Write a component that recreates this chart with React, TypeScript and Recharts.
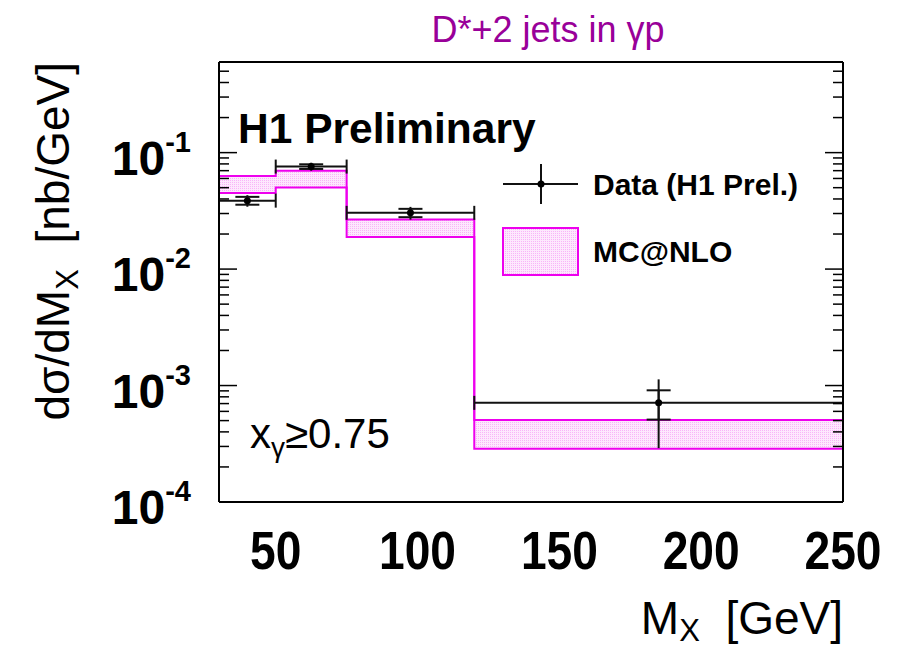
import React from "react";
import {
  ComposedChart,
  Area,
  Scatter,
  ErrorBar,
  XAxis,
  YAxis,
  Legend,
} from "recharts";

const FONT = "'Liberation Sans', Arial, Helvetica, sans-serif";
const MAGENTA = "#ee00ee";
const TITLE_COLOR = "#990099";

// M_X bin edges [GeV]
const binEdges = [30, 50, 75, 120, 250];

// H1 preliminary data points
const dataX = [40, 62.5, 97.5, 185];
const dataXErr = [10, 12.5, 22.5, 65];
const dataY = [0.0387, 0.0759, 0.0304, 0.00071];
const dataStat = [0.003, 0.0035, 0.0025, 0.0002];
const dataTot = [0.0044, 0.006, 0.0038, 0.00042];

// MC@NLO uncertainty band per bin
const mcLow = [0.045, 0.0503, 0.0189, 0.000286];
const mcHigh = [0.063, 0.0699, 0.0267, 0.000505];

const xMajorTicks = [50, 100, 150, 200, 250];
const xMinorTicks = [
  40, 60, 70, 80, 90, 110, 120, 130, 140, 160, 170, 180, 190, 210, 220, 230,
  240,
];
const yMajorTicks = [1e-4, 1e-3, 1e-2, 1e-1];
const yMinorTicks: number[] = [];
yMajorTicks.forEach((d) => {
  [2, 3, 4, 5, 6, 7, 8, 9].forEach((m) => {
    if (m * d < 0.59) yMinorTicks.push(m * d);
  });
});

const X_DOMAIN = [30, 250];
const Y_DOMAIN = [1e-4, 0.6];

const points = dataX.map((x, i) => ({
  x,
  y: dataY[i],
  ex: dataXErr[i],
  stat: dataStat[i],
  tot: dataTot[i],
}));

const bandRows = binEdges.map((x, i) => {
  const b = Math.min(i, mcLow.length - 1);
  return { x, band: [mcLow[b], mcHigh[b]] };
});

function XTick(props: any) {
  const { x, y, payload } = props;
  return (
    <text
      transform={`translate(${x},${y + 67}) scale(0.87,1)`}
      textAnchor="middle"
      fontFamily={FONT}
      fontWeight="bold"
      fontSize={53}
      fill="#000"
    >
      {payload.value}
    </text>
  );
}

function YTick(props: any) {
  const { x, y, payload } = props;
  const exp = Math.round(Math.log10(payload.value));
  return (
    <text
      x={x - 28}
      y={y + 22}
      textAnchor="end"
      fontFamily={FONT}
      fontWeight="bold"
      fontSize={48}
      fill="#000"
    >
      10
      <tspan dy={-23} fontSize={29}>
        {exp}
      </tspan>
    </text>
  );
}

// tick marks only, no label
const NoLabel = () => <g />;

function LegendBox(props: any) {
  const items = [...(props.payload || [])].sort(
    (a: any, b: any) => (a.type === "rect" ? 1 : 0) - (b.type === "rect" ? 1 : 0)
  );
  return (
    <svg width={340} height={130}>
      {items.map((entry: any, i: number) => {
        const top = i * 64;
        return entry.type === "rect" ? (
          <g key={entry.value}>
            <rect
              x={8}
              y={top + 9}
              width={75}
              height={47}
              fill="url(#mcfill)"
              stroke={MAGENTA}
              strokeWidth={2}
            />
            <text
              x={98}
              y={top + 43}
              fontFamily={FONT}
              fontWeight="bold"
              fontSize={30}
              fill="#000"
            >
              {entry.value}
            </text>
          </g>
        ) : (
          <g key={entry.value}>
            <line x1={8} y1={29} x2={83} y2={29} stroke="#111" strokeWidth={2} />
            <line x1={46} y1={9} x2={46} y2={49} stroke="#111" strokeWidth={2} />
            <circle cx={46} cy={29} r={3.5} fill="#000" />
            <text
              x={98}
              y={40}
              fontFamily={FONT}
              fontWeight="bold"
              fontSize={30}
              fill="#000"
            >
              {entry.value}
            </text>
          </g>
        );
      })}
    </svg>
  );
}

const frameLine = { stroke: "#000", strokeWidth: 2 };
const tickStyle = { stroke: "#000", strokeWidth: 1.5 };

export default function App() {
  return (
    <div
      style={{
        position: "absolute",
        left: 0,
        top: 0,
        width: 899,
        height: 649,
        background: "#fff",
      }}
    >
      <ComposedChart
        width={899}
        height={649}
        data={bandRows}
        margin={{ top: 62, right: 56, bottom: 0, left: 0 }}
      >
        <defs>
          <pattern
            id="mcfill"
            width={2}
            height={2}
            patternUnits="userSpaceOnUse"
          >
            <rect width={2} height={2} fill="#fde8fd" />
            <rect width={1} height={1} fill="#f8b4f8" />
          </pattern>
        </defs>

        <XAxis
          xAxisId={0}
          dataKey="x"
          type="number"
          domain={X_DOMAIN}
          allowDataOverflow
          ticks={xMajorTicks}
          interval={0}
          height={147}
          tickSize={0}
          tickMargin={0}
          tickLine={false}
          axisLine={frameLine}
          tick={<XTick />}
        />
        <XAxis
          xAxisId="bmaj"
          type="number"
          domain={X_DOMAIN}
          allowDataOverflow
          ticks={xMajorTicks}
          interval={0}
          mirror
          height={1}
          tickSize={14}
          tick={NoLabel}
          axisLine={false}
          tickLine={tickStyle}
        />
        <XAxis
          xAxisId="bmin"
          type="number"
          domain={X_DOMAIN}
          allowDataOverflow
          ticks={xMinorTicks}
          interval={0}
          mirror
          height={1}
          tickSize={7}
          tick={NoLabel}
          axisLine={false}
          tickLine={tickStyle}
        />
        <XAxis
          xAxisId="tmaj"
          orientation="top"
          type="number"
          domain={X_DOMAIN}
          allowDataOverflow
          ticks={xMajorTicks}
          interval={0}
          mirror
          height={1}
          tickSize={13}
          tick={NoLabel}
          axisLine={frameLine}
          tickLine={tickStyle}
        />
        <XAxis
          xAxisId="tmin"
          orientation="top"
          type="number"
          domain={X_DOMAIN}
          allowDataOverflow
          ticks={xMinorTicks}
          interval={0}
          mirror
          height={1}
          tickSize={6}
          tick={NoLabel}
          axisLine={false}
          tickLine={tickStyle}
        />

        <YAxis
          yAxisId={0}
          dataKey="y"
          type="number"
          scale="log"
          domain={Y_DOMAIN}
          allowDataOverflow
          ticks={yMajorTicks}
          interval={0}
          width={219}
          tickSize={0}
          tickMargin={0}
          tickLine={false}
          axisLine={frameLine}
          tick={<YTick />}
        />
        <YAxis
          yAxisId="lmaj"
          type="number"
          scale="log"
          domain={Y_DOMAIN}
          allowDataOverflow
          ticks={yMajorTicks}
          interval={0}
          mirror
          width={1}
          tickSize={18}
          tick={NoLabel}
          axisLine={false}
          tickLine={tickStyle}
        />
        <YAxis
          yAxisId="lmin"
          type="number"
          scale="log"
          domain={Y_DOMAIN}
          allowDataOverflow
          ticks={yMinorTicks}
          interval={0}
          mirror
          width={1}
          tickSize={9}
          tick={NoLabel}
          axisLine={false}
          tickLine={tickStyle}
        />
        <YAxis
          yAxisId="rmaj"
          orientation="right"
          type="number"
          scale="log"
          domain={Y_DOMAIN}
          allowDataOverflow
          ticks={yMajorTicks}
          interval={0}
          mirror
          width={1}
          tickSize={18}
          tick={NoLabel}
          axisLine={frameLine}
          tickLine={tickStyle}
        />
        <YAxis
          yAxisId="rmin"
          orientation="right"
          type="number"
          scale="log"
          domain={Y_DOMAIN}
          allowDataOverflow
          ticks={yMinorTicks}
          interval={0}
          mirror
          width={1}
          tickSize={9}
          tick={NoLabel}
          axisLine={false}
          tickLine={tickStyle}
        />

        <Area
          xAxisId={0}
          yAxisId={0}
          name="MC@NLO"
          dataKey="band"
          type="stepAfter"
          stroke={MAGENTA}
          strokeWidth={2}
          fill="url(#mcfill)"
          fillOpacity={1}
          dot={false}
          activeDot={false}
          legendType="rect"
          isAnimationActive={false}
        />
        <Scatter
          xAxisId={0}
          yAxisId={0}
          name="Data (H1 Prel.)"
          data={points}
          legendType="cross"
          isAnimationActive={false}
          shape={(p: any) => <circle cx={p.cx} cy={p.cy} r={3.5} fill="#000" />}
        >
          <ErrorBar dataKey="ex" direction="x" width={7} stroke="#111" strokeWidth={2} />
          <ErrorBar dataKey="tot" direction="y" width={0} stroke="#111" strokeWidth={2} />
          <ErrorBar dataKey="stat" direction="y" width={12} stroke="#111" strokeWidth={2} />
        </Scatter>

        <Legend
          layout="vertical"
          align="center"
          verticalAlign="middle"
          content={<LegendBox />}
          wrapperStyle={{ left: 495, top: 155, width: 340, height: 130 }}
        />

        <text
          x={548}
          y={42}
          textAnchor="middle"
          fontFamily={FONT}
          fontSize={36}
          fill={TITLE_COLOR}
        >
          D*+2 jets in γp
        </text>
        <text
          x={238}
          y={143}
          fontFamily={FONT}
          fontWeight="bold"
          fontSize={42.5}
          fill="#000"
        >
          H1 Preliminary
        </text>
        <text x={250} y={448} fontFamily={FONT} fontSize={42} fill="#000">
          x
          <tspan dy={9} fontSize={28}>
            γ
          </tspan>
          <tspan dy={-9}>≥0.75</tspan>
        </text>
        <text
          transform="translate(69,62) rotate(-90)"
          textAnchor="end"
          fontFamily={FONT}
          fontSize={46}
          fill="#000"
          style={{ whiteSpace: "pre" }}
        >
          dσ/dM
          <tspan dy={9} fontSize={31}>
            X
          </tspan>
          <tspan dy={-9}>{"  [nb/GeV]"}</tspan>
        </text>
        <text
          x={843}
          y={634}
          textAnchor="end"
          fontFamily={FONT}
          fontSize={46}
          fill="#000"
          style={{ whiteSpace: "pre" }}
        >
          M
          <tspan dy={7} fontSize={31}>
            X
          </tspan>
          <tspan dy={-7}>{"  [GeV]"}</tspan>
        </text>
      </ComposedChart>
    </div>
  );
}
